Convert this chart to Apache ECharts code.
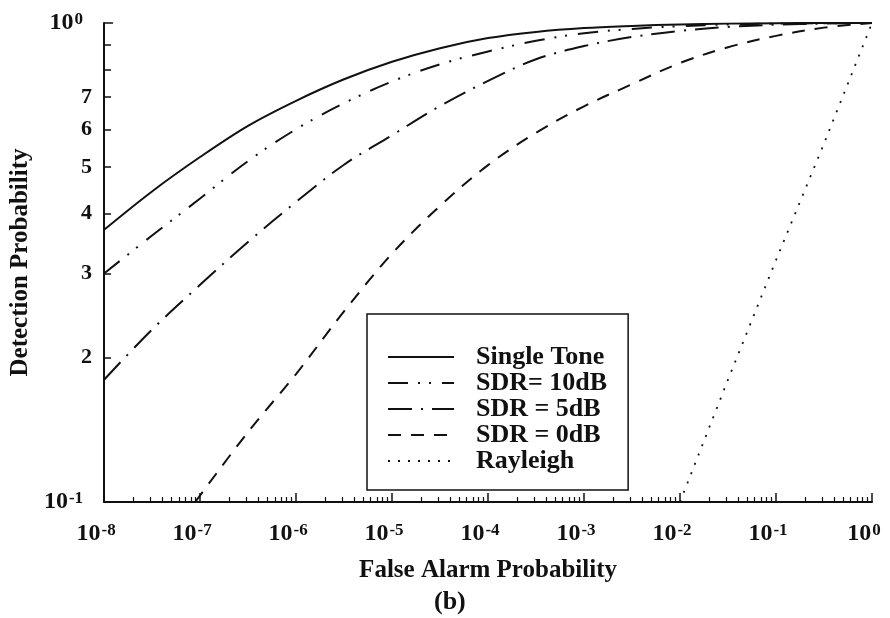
<!DOCTYPE html>
<html>
<head>
<meta charset="utf-8">
<script src="https://cdn.jsdelivr.net/npm/echarts@6/dist/echarts.min.js"></script>
<style>
  html, body { margin: 0; padding: 0; background: #fff; }
  #chart { width: 890px; height: 618px; }
</style>
</head>
<body>
<div id="chart"></div>
<script>
// False alarm probability at which the curves were read (half-decade steps)
const pfa = [1e-8, 3.16e-8, 1e-7, 3.16e-7, 1e-6, 3.16e-6, 1e-5, 3.16e-5, 1e-4,
             3.16e-4, 1e-3, 3.16e-3, 1e-2, 3.16e-2, 1e-1, 3.16e-1, 1];

// Detection probability for each detector
const singleTone = [0.37, 0.445, 0.525, 0.61, 0.688, 0.763, 0.83, 0.886, 0.93,
                    0.958, 0.976, 0.986, 0.993, 0.997, 0.999, 1.0, 1.0];
const sdr10 = [0.30, 0.36, 0.43, 0.515, 0.60, 0.68, 0.755, 0.82, 0.872,
               0.918, 0.952, 0.972, 0.985, 0.993, 0.997, 0.999, 1.0];
const sdr5 = [0.18, 0.229, 0.284, 0.349, 0.423, 0.506, 0.583, 0.671, 0.757,
              0.84, 0.895, 0.935, 0.963, 0.981, 0.992, 0.997, 1.0];

// SDR = 0 dB enters the plot just above 1e-7
const pfaSdr0 = [8.9e-8, 3.16e-7, 1e-6, 3.16e-6, 1e-5, 3.16e-5, 1e-4, 3.16e-4,
                 1e-3, 3.16e-3, 1e-2, 3.16e-2, 1e-1, 3.16e-1, 1];
const sdr0 = [0.1, 0.14, 0.185, 0.25, 0.33, 0.415, 0.505, 0.59,
              0.67, 0.745, 0.825, 0.89, 0.94, 0.978, 1.0];

// Rayleigh fading reference line
const pfaRayleigh = [0.01, 0.0316, 0.1, 0.316, 1];
const rayleigh = [0.1, 0.18, 0.32, 0.56, 1.0];

// Axis tick labels
const xDecades = [1e-8, 1e-7, 1e-6, 1e-5, 1e-4, 1e-3, 1e-2, 1e-1, 1];
const xExponents = ['-8', '-7', '-6', '-5', '-4', '-3', '-2', '-1', '0'];
const yTickValues = [0.1, 0.2, 0.3, 0.4, 0.5, 0.6, 0.7, 1];
const yTickLabels = ['10|-1', '2', '3', '4', '5', '6', '7', '10|0'];

const FONT = 'Liberation Serif';
const INK = '#111';

function pairs(xs, ys) { return xs.map((x, i) => [x, ys[i]]); }
function nearestIndex(list, v) {
  let best = 0;
  list.forEach((t, i) => {
    if (Math.abs(Math.log10(t) - Math.log10(v)) < Math.abs(Math.log10(list[best]) - Math.log10(v))) best = i;
  });
  return best;
}

const richLabels = {
  b: { fontFamily: FONT, fontWeight: 'bold', fontSize: 24, color: INK },
  s: { fontFamily: FONT, fontWeight: 'bold', fontSize: 17, color: INK, verticalAlign: 'top', padding: [0, 0, 0, 1] },
  sy: { fontFamily: FONT, fontWeight: 'bold', fontSize: 17, color: INK, verticalAlign: 'top', padding: [0, 9, 0, 1] },
  d: { fontFamily: FONT, fontWeight: 'bold', fontSize: 22, color: INK }
};

function lineSeries(name, data, dash, width, smooth) {
  return {
    name: name,
    type: 'line',
    data: data,
    symbol: 'none',
    smooth: smooth,
    clip: false,
    lineStyle: { color: INK, width: width, type: dash, cap: 'butt' },
    itemStyle: { color: INK },
    emphasis: { disabled: true }
  };
}

const chart = echarts.init(document.getElementById('chart'), null, { renderer: 'canvas' });
chart.setOption({
  animation: false,
  backgroundColor: '#fff',
  title: {
    text: '(b)',
    left: 434,
    top: 589,
    padding: 0,
    textStyle: { fontFamily: FONT, fontWeight: 'bold', fontSize: 26, color: INK }
  },
  grid: { left: 104, right: 18, top: 23, bottom: 116 },
  legend: {
    orient: 'vertical',
    left: 367,
    top: 314,
    selectedMode: false,
    itemWidth: 66,
    itemHeight: 14,
    itemGap: 0,
    padding: [30, 21, 16, 20],
    borderColor: INK,
    borderWidth: 1.5,
    itemStyle: { opacity: 0 },
    textStyle: { fontFamily: FONT, fontWeight: 'bold', fontSize: 26, lineHeight: 26, color: INK, padding: [0, 0, 0, 17] },
    data: ['Single Tone', 'SDR= 10dB', 'SDR = 5dB', 'SDR = 0dB', 'Rayleigh']
  },
  xAxis: {
    type: 'log',
    logBase: 10,
    min: 1e-8,
    max: 1,
    splitNumber: 8,
    axisLine: { lineStyle: { color: INK, width: 2 } },
    axisTick: { inside: true, length: 9, lineStyle: { color: INK, width: 1.5 } },
    minorTick: { show: true, splitNumber: 9, length: 5, lineStyle: { color: INK, width: 1.2 } },
    splitLine: { show: false },
    minorSplitLine: { show: false },
    axisLabel: {
      margin: 20,
      padding: [0, 16, 0, 0],
      formatter: v => '{b|10}{s|' + xExponents[nearestIndex(xDecades, v)] + '}',
      rich: richLabels
    },
    name: 'False Alarm Probability',
    nameLocation: 'middle',
    nameGap: 56,
    nameTextStyle: { fontFamily: FONT, fontWeight: 'bold', fontSize: 25, color: INK }
  },
  yAxis: {
    type: 'log',
    logBase: 10,
    min: 0.1,
    max: 1,
    axisLine: { lineStyle: { color: INK, width: 2 } },
    axisTick: { inside: true, length: 9, lineStyle: { color: INK, width: 1.5 } },
    minorTick: { show: true, splitNumber: 9, length: 7, lineStyle: { color: INK, width: 1.5 } },
    splitLine: { show: false },
    minorSplitLine: { show: false },
    axisLabel: {
      margin: 12,
      customValues: yTickValues,
      formatter: v => {
        const t = yTickLabels[nearestIndex(yTickValues, v)];
        if (t.indexOf('|') >= 0) {
          const parts = t.split('|');
          return '{b|' + parts[0] + '}{sy|' + parts[1] + '}';
        }
        return '{d|' + t + '}';
      },
      rich: richLabels
    },
    name: 'Detection Probability',
    nameLocation: 'middle',
    nameRotate: 90,
    nameGap: 55,
    nameTextStyle: { fontFamily: FONT, fontWeight: 'bold', fontSize: 25, color: INK }
  },
  series: [
    lineSeries('Single Tone', pairs(pfa, singleTone), 'solid', 2, 0.35),
    lineSeries('SDR= 10dB', pairs(pfa, sdr10), [20, 10, 2, 9, 2, 11], 2, 0.35),
    lineSeries('SDR = 5dB', pairs(pfa, sdr5), [24, 9, 2, 9], 2, 0.35),
    lineSeries('SDR = 0dB', pairs(pfaSdr0, sdr0), [13, 10], 2, 0.35),
    lineSeries('Rayleigh', pairs(pfaRayleigh, rayleigh), [2, 8], 1.8, false)
  ]
});
</script>
</body>
</html>
